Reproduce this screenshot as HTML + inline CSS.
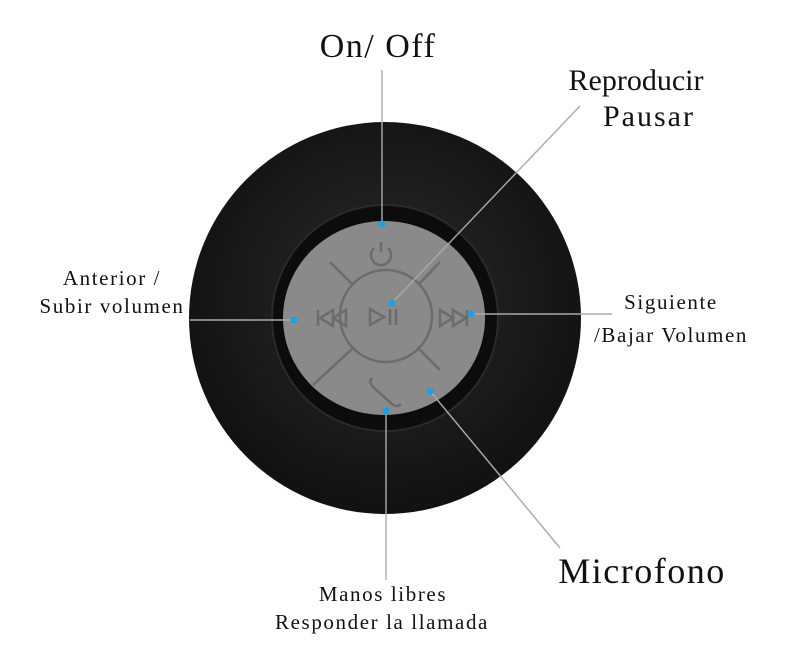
<!DOCTYPE html>
<html><head><meta charset="utf-8"><style>
body{margin:0;background:#fff;width:800px;height:665px;overflow:hidden}
text{font-family:"Liberation Serif",serif;fill:#111}
</style></head><body>
<svg width="800" height="665" viewBox="0 0 800 665" xmlns="http://www.w3.org/2000/svg">
<defs>
<radialGradient id="g" cx="50%" cy="45%" r="55%"><stop offset="0" stop-color="#2a2a2a"/><stop offset="1" stop-color="#111"/></radialGradient>
</defs>
<circle cx="385" cy="318" r="196" fill="url(#g)"/>
<circle cx="385" cy="318" r="113" fill="#0c0c0c" stroke="#2a2a2a" stroke-width="2"/>
<ellipse cx="384" cy="318" rx="101" ry="97" fill="#8a8a8a"/>
<g stroke="#6c6c6c" stroke-width="2.5" fill="none">
<circle cx="386" cy="316" r="46"/>
<line x1="352" y1="284" x2="330" y2="262"/>
<line x1="419" y1="284" x2="440" y2="262"/>
<line x1="352" y1="349" x2="313" y2="385"/>
<line x1="419" y1="349" x2="440" y2="370"/>
<path d="M374 248 a10 10 0 1 0 14 0 M381 242 v10"/>
<path d="M370 309 l14 8 l-14 8 z M390 309 v16 M396 309 v16"/>
<path d="M318 310 v16 M333 310 l-13 8 l13 8 z M346 310 l-13 8 l13 8 z"/>
<path d="M440 310 l13 8 l-13 8 z M453 310 l13 8 l-13 8 z M467 310 v16"/>
<path d="M372 378 q-4 4 2 10 l18 16 q5 4 9 0"/>
</g>
<g stroke="#aaa" stroke-width="1.4">
<line x1="382" y1="70" x2="382" y2="224"/>
<line x1="580" y1="106" x2="392" y2="303"/>
<line x1="190" y1="320" x2="294" y2="320"/>
<line x1="470" y1="314" x2="612" y2="314"/>
<line x1="430" y1="391" x2="560" y2="548"/>
<line x1="386" y1="411" x2="386" y2="580"/>
</g>
<g fill="#1ea0e0">
<circle cx="382" cy="224" r="3.5"/><circle cx="392" cy="303" r="3.5"/>
<circle cx="294" cy="320" r="3.5"/><circle cx="471" cy="314" r="3.5"/>
<circle cx="430" cy="391" r="3.5"/><circle cx="386" cy="411" r="3.5"/>
</g>
<text x="378" y="57" font-size="34" letter-spacing="1.5" text-anchor="middle">On/ Off</text>
<text x="636" y="90" font-size="30" text-anchor="middle">Reproducir</text>
<text x="649" y="126" font-size="30" letter-spacing="2" text-anchor="middle">Pausar</text>
<text x="112" y="285" font-size="21" letter-spacing="1.6" text-anchor="middle">Anterior /</text>
<text x="112" y="313" font-size="21" letter-spacing="1.6" text-anchor="middle">Subir volumen</text>
<text x="671" y="309" font-size="21" letter-spacing="1.6" text-anchor="middle">Siguiente</text>
<text x="671" y="342" font-size="21" letter-spacing="1.6" text-anchor="middle">/Bajar Volumen</text>
<text x="642" y="583" font-size="36" letter-spacing="1.5" text-anchor="middle">Microfono</text>
<text x="383" y="601" font-size="21" letter-spacing="1.6" text-anchor="middle">Manos libres</text>
<text x="382" y="629" font-size="21" letter-spacing="1.6" text-anchor="middle">Responder la llamada</text>
</svg>
</body></html>
